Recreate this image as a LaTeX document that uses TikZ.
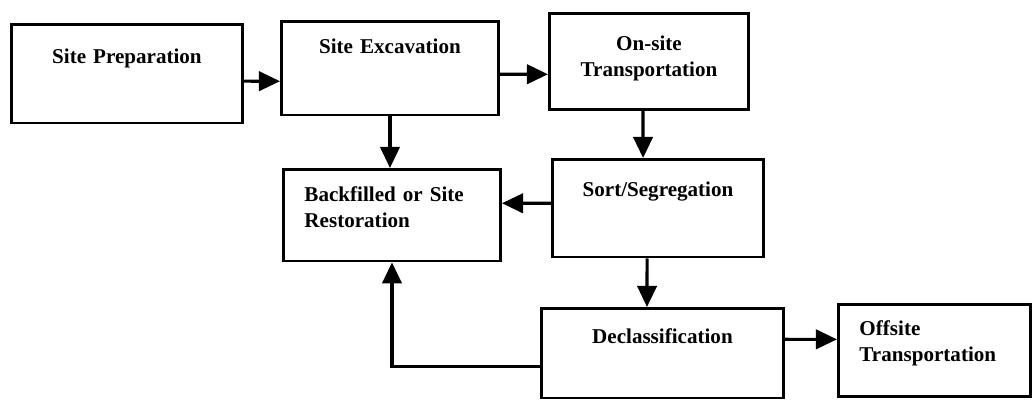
\documentclass[tikz,border=0pt]{standalone}
\usepackage{fontspec}
\setmainfont{Liberation Serif}
\usetikzlibrary{arrows.meta}

\begin{document}
\begin{tikzpicture}[x=0.02cm,y=-0.02cm,
	box/.style={draw,line width=1.6pt,anchor=north west,inner xsep=12pt,inner ysep=0pt,
		font=\fontsize{12}{15}\selectfont\bfseries},
	flow/.style={line width=1.8pt,-{Triangle[length=12pt,width=11pt]}}]
	\useasboundingbox (0,0) rectangle (1032,402);

	% process steps
	\node[box,text width=107.5pt,align=center,text height=22.1pt,text depth=34pt] (prep) at (10,23) {Site Preparation};
	\node[box,text width=99.6pt,align=center,text height=18.1pt,text depth=35.2pt] (exc) at (280,20) {Site Excavation};
	\node[box,text width=89.4pt,align=center,text height=21pt,text depth=33.5pt] (onsite) at (548,12) {On-site\\Transportation};
	\node[box,text width=96.2pt,align=center,text height=21pt,text depth=34.6pt] (sort) at (551,158) {Sort/Segregation};
	\node[box,text width=99.6pt,align=left,text height=18.1pt,text depth=34pt] (back) at (282,168) {Backfilled or Site\\Restoration};
	\node[box,text width=113.8pt,align=center,text height=19.8pt,text depth=31.2pt] (decl) at (540,307) {Declassification};
	\node[box,text width=85.4pt,align=left,text height=17.6pt,text depth=34.6pt] (off) at (837,303) {Offsite\\Transportation};

	% flows
	\draw[flow] ([yshift=-4.25pt]prep.east) -- ([yshift=-7.4pt]exc.west);
	\draw[flow] ([yshift=-3.4pt]exc.east) -- ([yshift=-7.4pt]onsite.west);
	\draw[flow] ([xshift=-3.4pt]onsite.south) -- ([xshift=-8.5pt]sort.north);
	\draw[flow] (exc.south) -- (exc.south |- back.north);
	\draw[flow] ([yshift=2.8pt]sort.west) -- ([yshift=6.8pt]back.east);
	\draw[flow] ([xshift=-6.2pt]sort.south) -- ([xshift=-8.8pt]decl.north);
	\draw[flow] ([yshift=-7.4pt]decl.west) -| (back.south);
	\draw[flow] ([yshift=7.9pt]decl.east) -- ([yshift=6.2pt]off.west);
\end{tikzpicture}
\end{document}
